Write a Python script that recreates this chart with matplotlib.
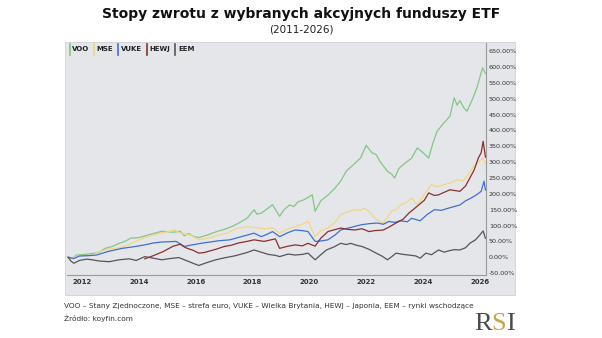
import matplotlib.pyplot as plt
from matplotlib.ticker import FuncFormatter

voo_t = [2011.5, 2011.65, 2011.8, 2012.1, 2012.35, 2012.6, 2012.8, 2013.05, 2013.3, 2013.5, 2013.7,
         2014.0, 2014.3, 2014.55, 2014.8, 2015.2, 2015.45, 2015.6, 2015.75, 2015.9, 2016.1,
         2016.4, 2016.7, 2017.0, 2017.3, 2017.55, 2017.8, 2018.05, 2018.15, 2018.3, 2018.5,
         2018.7, 2018.95, 2019.1, 2019.3, 2019.45, 2019.6, 2019.8, 2020.1, 2020.2, 2020.4,
         2020.65, 2020.9, 2021.1, 2021.3, 2021.55, 2021.8, 2022.0, 2022.2, 2022.35, 2022.5,
         2022.75, 2022.9, 2023.0, 2023.15, 2023.3, 2023.6, 2023.8, 2024.0, 2024.2, 2024.35,
         2024.5, 2024.7, 2024.95, 2025.1, 2025.2, 2025.3, 2025.45, 2025.55, 2025.75, 2025.9,
         2026.1, 2026.2]
voo_v = [0, -3, 7, 9, 12, 16, 28, 34, 44, 50, 60, 62, 70, 76, 82, 79, 82, 68, 75, 66, 62, 70, 80,
         88, 98, 110, 123, 150, 136, 139, 152, 166, 129, 150, 165, 160, 175, 181, 197, 145, 178,
         196, 218, 240, 272, 292, 313, 353, 330, 324, 300, 271, 262, 250, 280, 292, 313, 345,
         330, 313, 360, 398, 420, 445, 503, 480, 494, 470, 461, 500, 535, 598, 580]

mse_t = [2011.5, 2011.65, 2011.8, 2012.1, 2012.35, 2012.6, 2012.9, 2013.3, 2013.6, 2013.9, 2014.2,
         2014.45, 2014.7, 2015.1, 2015.25, 2015.4, 2015.6, 2015.8, 2016.1, 2016.3, 2016.5,
         2016.8, 2017.1, 2017.3, 2017.5, 2017.8, 2018.05, 2018.4, 2018.7, 2018.95, 2019.2,
         2019.5, 2019.75, 2019.95, 2020.2, 2020.4, 2020.65, 2020.9, 2021.1, 2021.35, 2021.6,
         2021.8, 2021.95, 2022.15, 2022.3, 2022.6, 2022.9, 2023.05, 2023.2, 2023.4, 2023.6,
         2023.8, 2024.05, 2024.3, 2024.5, 2024.75, 2025.0, 2025.2, 2025.4, 2025.6, 2025.75,
         2025.95, 2026.1, 2026.2]
mse_v = [0, -2, 3, 5, 7, 18, 25, 30, 39, 50, 62, 68, 75, 82, 86, 78, 74, 70, 55, 58, 62, 70, 76,
         85, 92, 96, 94, 90, 92, 76, 88, 97, 104, 113, 65, 84, 92, 110, 134, 144, 150, 148, 155,
         140, 123, 108, 145, 150, 165, 172, 187, 165, 200, 229, 222, 229, 236, 245, 240, 262,
         282, 300, 313, 295]

vuke_t = [2011.5, 2011.7, 2011.9, 2012.2, 2012.5, 2012.9, 2013.4, 2013.8, 2014.2, 2014.5,
          2014.8, 2015.3, 2015.6, 2015.8, 2016.0, 2016.25, 2016.5, 2016.8, 2017.2, 2017.6,
          2018.05, 2018.3, 2018.5, 2018.7, 2018.95, 2019.25, 2019.5, 2019.75, 2019.95, 2020.2,
          2020.45, 2020.65, 2020.9, 2021.1, 2021.5, 2021.8, 2022.1, 2022.4, 2022.6, 2022.8,
          2023.0, 2023.2, 2023.45, 2023.6, 2023.9, 2024.15, 2024.4, 2024.65, 2024.9, 2025.1,
          2025.3, 2025.5, 2025.7, 2025.9, 2026.05, 2026.15, 2026.2]
vuke_v = [0, -4, 4, 5, 7, 18, 28, 33, 39, 45, 48, 50, 34, 38, 41, 45, 48, 52, 55, 65, 76, 65, 72,
          81, 65, 78, 86, 84, 81, 50, 52, 55, 70, 86, 95, 102, 106, 108, 104, 113, 110, 115, 112,
          123, 115, 135, 150, 148, 155, 160, 165, 178, 187, 198, 208, 240, 212]

hewj_t = [2014.2, 2014.5, 2014.85, 2015.2, 2015.45, 2015.6, 2015.7, 2015.9, 2016.1, 2016.3,
          2016.45, 2016.7, 2017.0, 2017.25, 2017.5, 2017.8, 2018.05, 2018.4, 2018.6, 2018.8,
          2018.95, 2019.2, 2019.5, 2019.75, 2019.95, 2020.2, 2020.4, 2020.65, 2020.85, 2021.1,
          2021.35, 2021.6, 2021.85, 2022.1, 2022.3, 2022.6, 2022.8, 2023.05, 2023.3, 2023.5,
          2023.65, 2023.85, 2024.05, 2024.2, 2024.4, 2024.55, 2024.75, 2024.95, 2025.15, 2025.3,
          2025.5, 2025.65, 2025.8, 2025.95, 2026.05, 2026.12, 2026.2]
hewj_v = [-5, 5, 18, 35, 41, 32, 28, 22, 13, 15, 19, 25, 34, 38, 45, 50, 55, 50, 54, 58, 28, 34,
          39, 36, 44, 35, 60, 81, 86, 92, 88, 86, 90, 81, 84, 86, 95, 108, 120, 139, 150, 165,
          180, 203, 195, 197, 205, 213, 210, 208, 225, 250, 275, 313, 330, 366, 316]

eem_t = [2011.5, 2011.6, 2011.7, 2011.9, 2012.15, 2012.35, 2012.6, 2012.95, 2013.3, 2013.65,
         2013.9, 2014.2, 2014.5, 2014.8, 2015.1, 2015.4, 2015.65, 2015.9, 2016.1, 2016.35,
         2016.7, 2017.0, 2017.4, 2017.8, 2018.05, 2018.3, 2018.55, 2018.8, 2018.95, 2019.25,
         2019.5, 2019.75, 2019.95, 2020.2, 2020.4, 2020.6, 2020.85, 2021.1, 2021.3, 2021.45,
         2021.65, 2021.85, 2022.1, 2022.35, 2022.55, 2022.75, 2022.9, 2023.05, 2023.3, 2023.5,
         2023.75, 2023.9, 2024.1, 2024.3, 2024.55, 2024.75, 2024.9, 2025.1, 2025.3, 2025.5,
         2025.65, 2025.85, 2026.0, 2026.12, 2026.2]
eem_v = [0, -12, -19, -10, -6, -8, -12, -14, -8, -5, -10, 2, -3, -8, -4, -1, -10, -19, -26, -18,
         -8, -2, 5, 15, 23, 16, 9, 6, 2, 10, 7, 9, 13, -8, 8, 23, 32, 44, 40, 44, 38, 34, 25, 13,
         4, -8, 2, 13, 9, 7, 4, -3, 13, 8, 23, 16, 20, 24, 23, 30, 44, 55, 70, 83, 60]

series = [
    ('VOO', voo_t, voo_v, '#82c785'),
    ('MSE', mse_t, mse_v, '#f3d682'),
    ('VUKE', vuke_t, vuke_v, '#3d6fd6'),
    ('HEWJ', hewj_t, hewj_v, '#8a2f2f'),
    ('EEM', eem_t, eem_v, '#555559'),
]

y_ticks = list(range(-50, 651, 50))
x_ticks = list(range(2012, 2027, 2))

panel_color = '#e5e6ea'

fig = plt.figure(figsize=(6.02, 3.38), dpi=100)
fig.patch.set_facecolor('white')

# grey backdrop behind the plot and the right-hand labels
W, H = 602.0, 338.0
panel = plt.Rectangle((65 / W, 1 - 295 / H), 450 / W, 253 / H, transform=fig.transFigure,
                      facecolor=panel_color, edgecolor='#d0d1d5', linewidth=0.6, zorder=-5)
fig.patches.append(panel)

ax = fig.add_axes([67 / W, 1 - 275 / H, 419 / W, 232 / H])
ax.set_zorder(2)
ax.set_facecolor(panel_color)

for name, t, v, c in series:
    ax.plot(t, v, color=c, linewidth=0.9)

ax.set_xlim(2011.46, 2026.22)
ax.set_ylim(-56, 676)
ax.set_yticks(y_ticks)
ax.set_xticks(x_ticks)
ax.yaxis.tick_right()
ax.yaxis.set_major_formatter(FuncFormatter(lambda v, p: '{:.2f}%'.format(v)))
ax.tick_params(axis='y', labelsize=4.6, length=0, pad=2, labelcolor='#333333')
ax.tick_params(axis='x', labelsize=5, length=0, pad=3, labelcolor='#333333')
for lbl in ax.get_xticklabels():
    lbl.set_fontweight('bold')

for side in ['top', 'left']:
    ax.spines[side].set_visible(False)
ax.spines['bottom'].set_color('#9a9a9a')
ax.spines['right'].set_color('#9a9a9a')
ax.spines['bottom'].set_linewidth(0.8)
ax.spines['right'].set_linewidth(0.8)

# koyfin-style legend: coloured bar + ticker
fig.canvas.draw()
renderer = fig.canvas.get_renderer()
lx = 0.006
for name, t, v, c in series:
    ax.plot([lx, lx], [0.95, 0.995], transform=ax.transAxes, color=c, linewidth=1.2, clip_on=False)
    txt = ax.text(lx + 0.006, 0.972, name, transform=ax.transAxes, fontsize=5, fontweight='bold',
                  va='center', ha='left', color='#222222')
    bb = txt.get_window_extent(renderer=renderer).transformed(ax.transAxes.inverted())
    lx = bb.x1 + 0.012

fig.text(0.5, 1 - 14 / H, 'Stopy zwrotu z wybranych akcyjnych funduszy ETF', ha='center', va='center',
         fontsize=10, fontweight='bold', color='#111111')
fig.text(0.5, 1 - 30 / H, '(2011-2026)', ha='center', va='center', fontsize=7.5, color='#222222')

fig.text(64 / W, 1 - 306 / H,
         'VOO – Stany Zjednoczone, MSE – strefa euro, VUKE – Wielka Brytania, HEWJ – Japonia, EEM – rynki wschodzące',
         ha='left', va='center', fontsize=5.3, color='#333333')
fig.text(64 / W, 1 - 318 / H, 'Źródło: koyfin.com', ha='left', va='center', fontsize=5.3, color='#333333')

# RSI logo, letters set side by side
lx = 474 / W
for ch, c in [('R', '#4a4a4a'), ('S', '#c9a44c'), ('I', '#4a4a4a')]:
    t = fig.text(lx, 1 - 330 / H, ch, ha='left', va='baseline', fontsize=19, family='Liberation Serif',
                 color=c)
    bb = t.get_window_extent(renderer=renderer).transformed(fig.transFigure.inverted())
    lx = bb.x1

fig.savefig('out.png', dpi=100, facecolor='white')
